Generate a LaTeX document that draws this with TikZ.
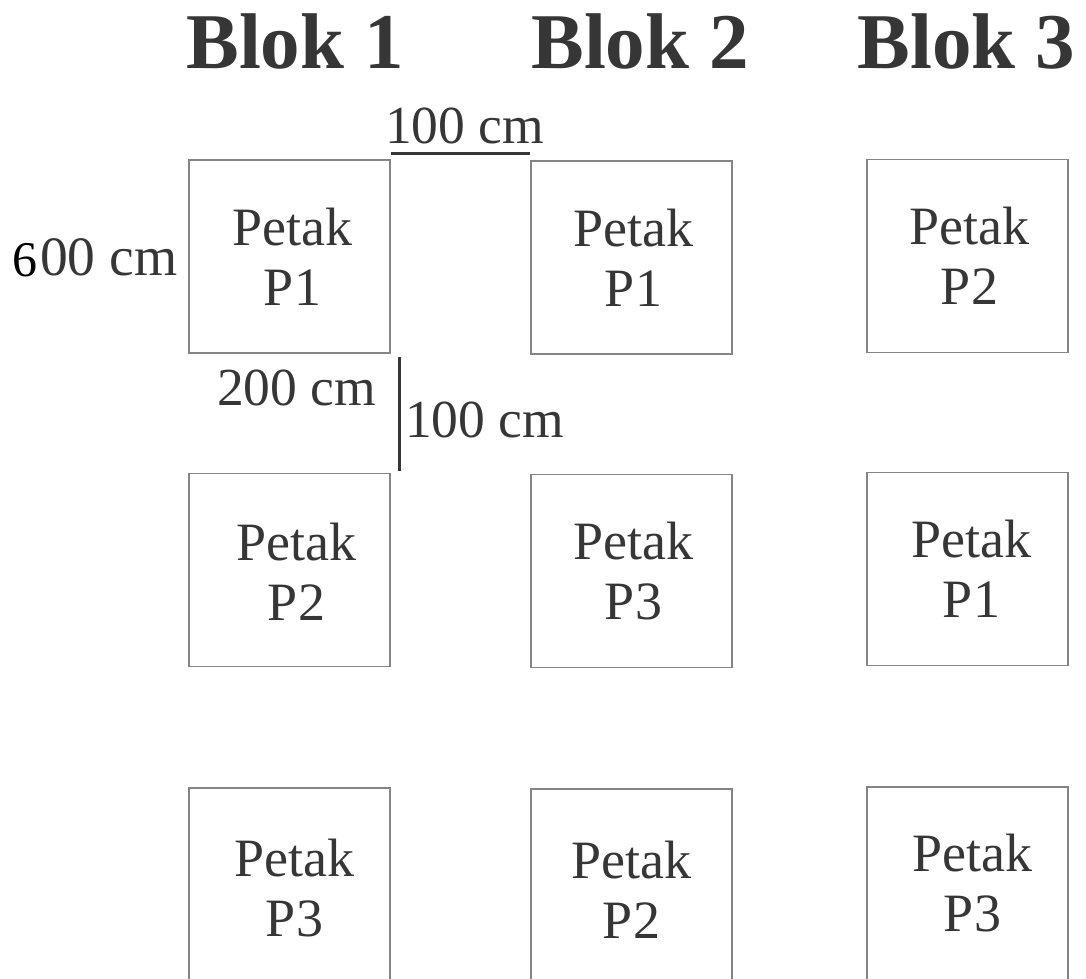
\documentclass[tikz,border=0pt]{standalone}
\usepackage{fontspec}
\setmainfont{Liberation Serif}
\definecolor{ink}{HTML}{363636}
\definecolor{frame}{HTML}{858585}
\tikzset{
  plotbox/.style={draw=frame, line width=1.3pt, minimum width=201pt, minimum height=193pt,
    inner sep=0pt, outer sep=0pt},
  plottext/.style={text=ink, align=center, inner sep=0pt, font=\fontsize{54}{60}\selectfont},
  blok/.style={text=ink, font=\bfseries\fontsize{79}{80}\selectfont, inner sep=0pt, anchor=base},
  dimlabel/.style={text=ink, font=\fontsize{53.5}{60}\selectfont, inner sep=0pt, anchor=base west},
  dimline/.style={draw=ink, line width=3pt}
}
\begin{document}
\begin{tikzpicture}[x=1pt, y=-1pt]
\useasboundingbox (0,0) rectangle (1086,978);
\clip (0,0) rectangle (1086,978);

% block headings
\node[blok] (b1) at (295,68) {Blok 1};
\node[blok] (b2) at (640,68) {Blok 2};
\node[blok] (b3) at (966,68) {Blok 3};

% plots, one column per block
\node[plotbox] (p11) at (289.5,256.5) {};
\node[plotbox] (p12) at (289.5,570) {};
\node[plotbox] (p13) at (289.5,884.5) {};
\node[plotbox] (p21) at (631.5,257.5) {};
\node[plotbox] (p22) at (631.5,571) {};
\node[plotbox] (p23) at (631.5,885.5) {};
\node[plotbox] (p31) at (967.5,256) {};
\node[plotbox] (p32) at (967.5,569) {};
\node[plotbox] (p33) at (967.5,883.5) {};

% plot labels
\node[plottext] (t11) at ([xshift=3pt]p11.center) {Petak\\P1};
\node[plottext] (t12) at ([xshift=7pt,yshift=-2pt]p12.center) {Petak\\P2};
\node[plottext] (t13) at ([xshift=5pt,yshift=-4pt]p13.center) {Petak\\P3};
\node[plottext] (t21) at ([xshift=2pt]p21.center) {Petak\\P1};
\node[plottext] (t22) at ([xshift=2pt]p22.center) {Petak\\P3};
\node[plottext] (t23) at ([xshift=0pt,yshift=-4pt]p23.center) {Petak\\P2};
\node[plottext] (t31) at ([xshift=2pt]p31.center) {Petak\\P2};
\node[plottext] (t32) at ([xshift=4pt]p32.center) {Petak\\P1};
\node[plottext] (t33) at ([xshift=5pt]p33.center) {Petak\\P3};

% dimensions
\node[dimlabel] (wtop) at (385,143) {100 cm};
\coordinate (h1) at (391,153);
\coordinate (h2) at (530,153);
\draw[dimline] (h1) -- (h2);

\node[dimlabel, text=black, font=\fontsize{50}{50}\selectfont] (six) at (12,276) {6};
\node[dimlabel, font=\fontsize{55.5}{60}\selectfont] (len) at (40,275) {00 cm};

\node[dimlabel] (wcol) at (217,405) {200 cm};
\node[dimlabel] (gap) at (405,437) {100 cm};
\coordinate (v1) at (399,357);
\coordinate (v2) at (399,471);
\draw[dimline] (v1) -- (v2);
\end{tikzpicture}
\end{document}
